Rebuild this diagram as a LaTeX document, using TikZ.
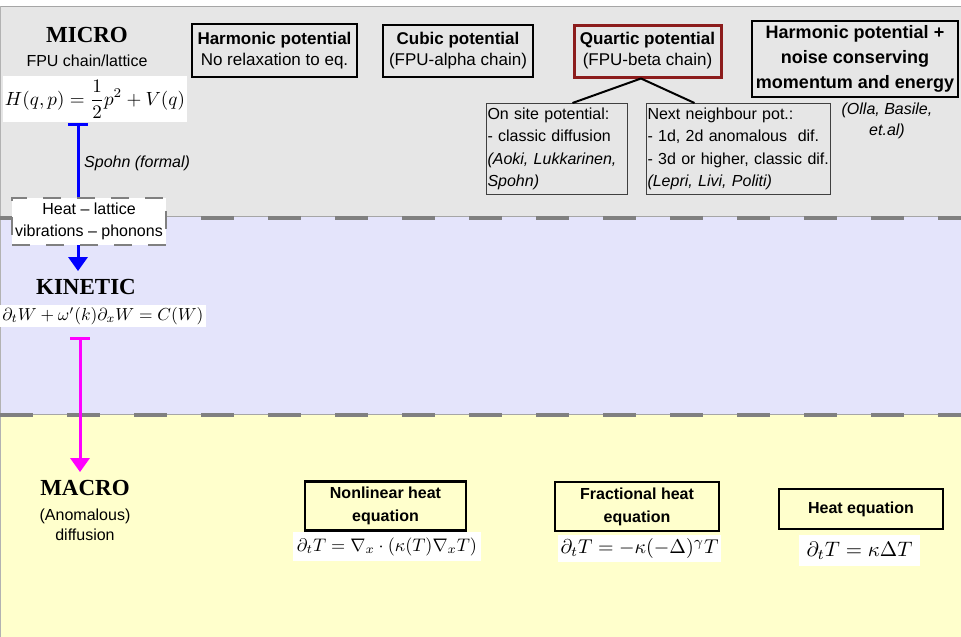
\documentclass[tikz,border=0pt]{standalone}
\usepackage{fontspec}
\setmainfont{Liberation Sans}
\newfontfamily\tnr{Liberation Serif}
\usepackage{graphicx}
\usetikzlibrary{arrows.meta}
\definecolor{bandgrey}{HTML}{E6E6E6}
\definecolor{bandlav}{HTML}{E4E4FB}
\definecolor{bandyel}{HTML}{FFFFCC}
\definecolor{dashgrey}{HTML}{808080}
\definecolor{quartred}{HTML}{8C1C1C}
\definecolor{linkblue}{HTML}{0000FF}
\definecolor{linkmag}{HTML}{FF00FF}
\begin{document}
\begin{tikzpicture}[x=1pt,y=-1pt,
  leveltitle/.style={font=\tnr\bfseries\fontsize{23}{26}\selectfont, inner sep=0pt},
  subtext/.style={font=\fontsize{16}{20}\selectfont, inner sep=0pt, align=center},
  formbox/.style={fill=white, inner sep=0pt},
  topbox/.style={draw=black, line width=2pt, inner sep=0pt, align=center, font=\fontsize{17}{21}\selectfont},
  refbox/.style={draw=black!75, line width=1pt, inner xsep=1pt, inner ysep=0pt, align=left, anchor=north west, font=\fontsize{16}{22.5}\selectfont},
  eqbox/.style={draw=black, line width=2.5pt, inner sep=0pt, align=center, font=\bfseries\fontsize{16}{23}\selectfont},
  bandline/.style={dashgrey, line width=3.5pt, dash pattern=on 33pt off 34pt},
  bandthin/.style={black!35, line width=1pt},
  linkline/.style={line width=3pt, arrows={Bar[width=20pt]-Triangle[width=19pt,length=14pt]}}
]
\useasboundingbox (0,0) rectangle (961,637);
% background bands
\fill[white] (0,0) rectangle (961,637);
\fill[bandgrey] (0,6) rectangle (961,217);
\fill[bandlav] (0,217) rectangle (961,415);
\fill[bandyel] (0,415) rectangle (961,637);
\draw[black!35, line width=1pt] (0,6) -- (961,6);
\draw[black!30, line width=1pt] (0.5,6) -- (0.5,637);
\draw[bandthin] (0,216.5) -- (961,216.5);
\draw[bandline] (0,218) -- (961,218);
\draw[bandthin] (0,414.5) -- (961,414.5);
\draw[bandline] (0,415) -- (961,415);

% MICRO level
\node[leveltitle] (micro) at (87,35) {MICRO};
\node[subtext] (fpu) at (87,61) {FPU chain/lattice};
\node[formbox, minimum width=184pt, minimum height=46pt] (hform) at (95,99)
  {\resizebox{180pt}{!}{$\displaystyle H(q,p)=\frac{1}{2}p^2+V(q)$}};

% KINETIC level
\node[leveltitle] (kin) at (86,287) {KINETIC};
\node[formbox, minimum width=206pt, minimum height=22pt] (kinf) at (103,316)
  {\resizebox{201pt}{!}{$\partial_t W+\omega'(k)\partial_x W=C(W)$}};

% MACRO level
\node[leveltitle] (macro) at (85,488) {MACRO};
\node[subtext] (anom) at (85,525) {(Anomalous)\\diffusion};

% connectors on the left
\coordinate (bx) at (78,0);
\coordinate (mx) at (80,0);
\draw[linkline, linkblue, shorten <=1pt, shorten >=8pt] (hform.south -| bx) -- (kin.north -| bx);
\node[subtext, anchor=west, font=\itshape\fontsize{16}{20}\selectfont] (spohn) at (84,163) {Spohn (formal)};
\node[formbox, draw=dashgrey, line width=1.5pt, dash pattern=on 18pt off 16pt,
  minimum width=154pt, minimum height=47pt, align=center, font=\fontsize{16}{22}\selectfont] (heat) at (89,221.5)
  {Heat -- lattice\\vibrations -- phonons};
\draw[linkline, linkmag, shorten <=10pt, shorten >=8pt] (kinf.south -| mx) -- (macro.north -| mx);

% top boxes
\node[topbox, minimum width=165pt, minimum height=53pt] (harm) at (274.5,50.5)
  {{\bfseries Harmonic potential}\\No relaxation to eq.};
\node[topbox, minimum width=150pt, minimum height=52pt] (cubic) at (458,51)
  {{\bfseries Cubic potential}\\(FPU-alpha chain)};
\node[topbox, draw=quartred, line width=3pt, minimum width=147pt, minimum height=52pt] (quart) at (647.5,51)
  {{\bfseries Quartic potential}\\(FPU-beta chain)};
\node[topbox, font=\bfseries\fontsize{18}{25}\selectfont, minimum width=206pt, minimum height=76pt] (noise) at (855,59)
  {Harmonic potential +\\noise conserving\\momentum and energy};
\node[subtext, font=\itshape\fontsize{16}{21}\selectfont] (olla) at (887,121) {(Olla, Basile,\\et.al)};

\node[refbox, text width=139pt, minimum height=91pt] (onsite) at (486,103)
  {On site potential:\\- classic diffusion\\\textit{(Aoki, Lukkarinen,}\\\textit{Spohn)}};
\node[refbox, text width=182pt, minimum height=91pt] (next) at (646,103)
  {Next neighbour pot.:\\- 1d, 2d anomalous\ \ dif.\\- 3d or higher, classic dif.\\\textit{(Lepri, Livi, Politi)}};
\draw[line width=2pt] ([xshift=-6.5pt]quart.south) -- ([xshift=15.5pt]onsite.north);
\draw[line width=2pt] ([xshift=-6.5pt]quart.south) -- ([xshift=-44pt]next.north);

% bottom boxes
\node[eqbox, minimum width=161pt, minimum height=49pt] (nonlin) at (385.5,506)
  {Nonlinear heat\\equation};
\node[formbox, minimum width=188pt, minimum height=29pt] (nonlinf) at (387,546.5)
  {\resizebox{180pt}{!}{$\partial_t T=\nabla_x\cdot(\kappa(T)\nabla_x T)$}};
\node[eqbox, minimum width=164pt, minimum height=49pt] (frac) at (637,506.5)
  {Fractional heat\\equation};
\node[formbox, minimum width=163pt, minimum height=27pt] (fracf) at (639.5,548.5)
  {\resizebox{158pt}{!}{$\partial_t T=-\kappa(-\Delta)^{\gamma} T$}};
\node[eqbox, minimum width=164pt, minimum height=40pt] (heq) at (861,509)
  {Heat equation};
\node[formbox, minimum width=121pt, minimum height=31pt] (heqf) at (859.5,550.5)
  {\resizebox{106pt}{!}{$\partial_t T=\kappa\Delta T$}};
\end{tikzpicture}
\end{document}
